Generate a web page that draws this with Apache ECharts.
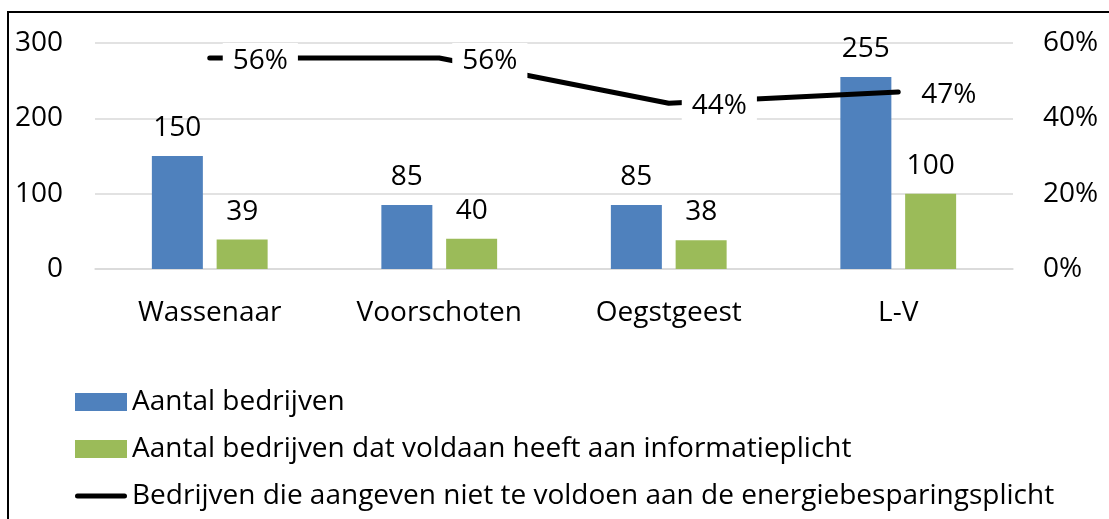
<!DOCTYPE html>
<html><head><meta charset="utf-8">
<script src="https://cdn.jsdelivr.net/npm/echarts@6/dist/echarts.min.js"></script>
<style>html,body{margin:0;padding:0;background:#fff}#c{width:1109px;height:519px}</style>
</head><body><div id="c"></div>
<script>
var categories = ['Wassenaar', 'Voorschoten', 'Oegstgeest', 'L-V'];
var aantal = [150, 85, 85, 255];
var informatieplicht = [39, 40, 38, 100];
var nietVoldoen = [0.56, 0.56, 0.44, 0.47];
var leftTicks = [0, 100, 200, 300];
var rightTicks = [0, 0.2, 0.4, 0.6];
var names = ['Aantal bedrijven', 'Aantal bedrijven dat voldaan heeft aan informatieplicht', 'Bedrijven die aangeven niet te voldoen aan de energiebesparingsplicht'];

var FONT = 'Open Sans';
var FS = 28;
var pct = function (v) { return Math.round(v * 100) + '%'; };
var lineIcon = 'path://M0,0L0.01,0ZM52,18L51.99,18ZM2.5,6.5L49.5,6.5A2.5,2.5,0,0,1,49.5,11.5L2.5,11.5A2.5,2.5,0,0,1,2.5,6.5Z';
var chart = echarts.init(document.getElementById('c'));
chart.setOption({
  animation: false,
  textStyle: {fontFamily: FONT},
  graphic: [{type: 'rect', shape: {x: 8, y: 12, width: 1200, height: 600}, style: {fill: 'none', stroke: '#000', lineWidth: 2}, silent: true}],
  grid: {left: 95, right: 96, top: 43, bottom: 250},
  legend: {
    orient: 'vertical', left: 70, top: 383, itemWidth: 52, itemHeight: 18, itemGap: 19,
    textStyle: {fontSize: FS, color: '#000', fontFamily: FONT, lineHeight: 28},
    data: [{name: names[0], icon: 'rect'}, {name: names[1], icon: 'rect'}, {name: names[2], icon: lineIcon, itemStyle: {color: '#000'}}]
  },
  xAxis: {
    type: 'category', data: categories,
    axisLine: {lineStyle: {color: '#d9d9d9', width: 1.5}}, axisTick: {show: false},
    axisLabel: {fontSize: FS, color: '#000', margin: 30, fontFamily: FONT}
  },
  yAxis: [{
    type: 'value', min: leftTicks[0], max: leftTicks[leftTicks.length - 1], interval: 100,
    axisLabel: {fontSize: FS, color: '#000', margin: 32, fontFamily: FONT},
    splitLine: {lineStyle: {color: '#d9d9d9', width: 1.5}}, axisLine: {show: false}, axisTick: {show: false}
  }, {
    type: 'value', min: rightTicks[0], max: rightTicks[rightTicks.length - 1], interval: 0.2,
    axisLabel: {fontSize: FS, color: '#000', margin: 30, fontFamily: FONT, formatter: pct},
    splitLine: {show: false}, axisLine: {show: false}, axisTick: {show: false}
  }],
  series: [{
    name: names[0], type: 'bar', data: aantal, barWidth: 51, barGap: '27%',
    itemStyle: {color: '#4F81BD'},
    label: {show: true, position: 'top', distance: 14, fontSize: FS, color: '#000', fontFamily: FONT}
  }, {
    name: names[1], type: 'bar', data: informatieplicht, barWidth: 51,
    itemStyle: {color: '#9BBB59'},
    label: {show: true, position: 'top', distance: 14, fontSize: FS, color: '#000', fontFamily: FONT}
  }, {
    name: names[2], type: 'line', yAxisIndex: 1, data: nietVoldoen, symbol: 'none', z: 3,
    lineStyle: {color: '#000', width: 5, cap: 'round', join: 'round'}, itemStyle: {color: '#000'}
  }, {
    name: 'labels', type: 'scatter', yAxisIndex: 1, data: nietVoldoen, symbolSize: 0, z: 6,
    itemStyle: {color: '#000', opacity: 1}, silent: true,
    label: {show: true, position: 'right', distance: 13, offset: [0, 3], fontSize: FS, color: '#000', opacity: 1, fontFamily: FONT,
      backgroundColor: '#fff', padding: [5, 10, 3, 10],
      formatter: function (p) { return pct(p.value); }}
  }]
});
</script></body></html>
